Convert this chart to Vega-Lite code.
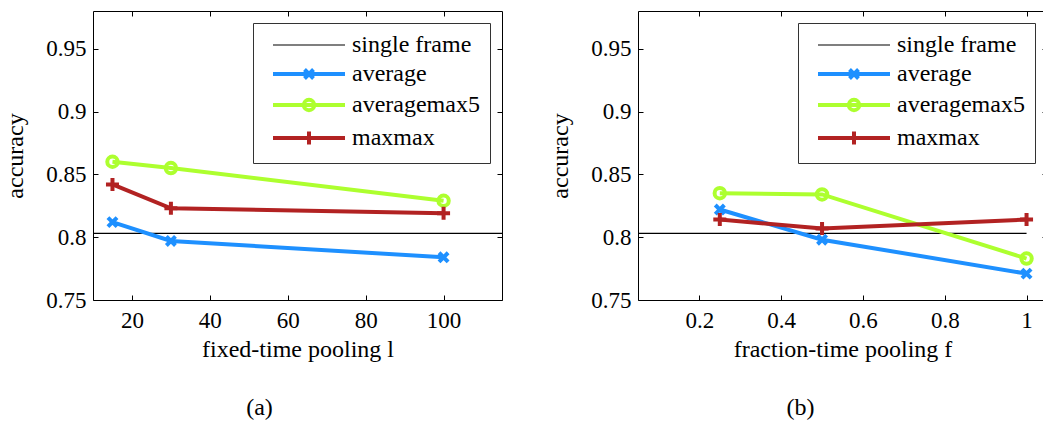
{
  "$schema": "https://vega.github.io/schema/vega-lite/v6.json",
  "background": "white",
  "padding": {"left": 3, "top": 10, "right": 0, "bottom": 0},
  "config": {
    "font": "Liberation Serif",
    "view": {"stroke": "black", "strokeWidth": 1},
    "axis": {
      "labelFont": "Liberation Serif", "titleFont": "Liberation Serif",
      "labelFontSize": 23, "titleFontSize": 24, "labelColor": "black", "titleColor": "black",
      "titleFontWeight": "normal", "tickColor": "black", "domainColor": "black", "domain": false,
      "grid": false, "tickSize": -5, "tickWidth": 1
    },
    "legend": {
      "labelFont": "Liberation Serif", "labelFontSize": 24, "labelColor": "black",
      "strokeColor": "#333333", "fillColor": "white", "padding": 10,
      "symbolSize": 324, "symbolStrokeWidth": 4, "symbolOffset": 34, "labelOffset": 31, "rowPadding": 4,
      "orient": "top-right", "offset": 12
    },
    "title": {"font": "Liberation Serif", "fontSize": 24, "fontWeight": "normal", "color": "black"}
  },
  "datasets": {
    "d": [
      {"panel": "a", "series": "single frame", "x": 10, "acc": 0.803},
      {"panel": "a", "series": "single frame", "x": 115, "acc": 0.803},
      {"panel": "a", "series": "average", "x": 15, "acc": 0.812},
      {"panel": "a", "series": "average", "x": 30, "acc": 0.797},
      {"panel": "a", "series": "average", "x": 100, "acc": 0.784},
      {"panel": "a", "series": "averagemax5", "x": 15, "acc": 0.86},
      {"panel": "a", "series": "averagemax5", "x": 30, "acc": 0.855},
      {"panel": "a", "series": "averagemax5", "x": 100, "acc": 0.829},
      {"panel": "a", "series": "maxmax", "x": 15, "acc": 0.842},
      {"panel": "a", "series": "maxmax", "x": 30, "acc": 0.823},
      {"panel": "a", "series": "maxmax", "x": 100, "acc": 0.819},
      {"panel": "b", "series": "single frame", "x": 0.05, "acc": 0.803},
      {"panel": "b", "series": "single frame", "x": 1, "acc": 0.803},
      {"panel": "b", "series": "average", "x": 0.25, "acc": 0.822},
      {"panel": "b", "series": "average", "x": 0.5, "acc": 0.798},
      {"panel": "b", "series": "average", "x": 1, "acc": 0.771},
      {"panel": "b", "series": "averagemax5", "x": 0.25, "acc": 0.835},
      {"panel": "b", "series": "averagemax5", "x": 0.5, "acc": 0.834},
      {"panel": "b", "series": "averagemax5", "x": 1, "acc": 0.783},
      {"panel": "b", "series": "maxmax", "x": 0.25, "acc": 0.814},
      {"panel": "b", "series": "maxmax", "x": 0.5, "acc": 0.807},
      {"panel": "b", "series": "maxmax", "x": 1, "acc": 0.814}
    ]
  },
  "spacing": 42,
  "resolve": {"scale": {"color": "independent", "shape": "independent"}, "legend": {"color": "independent"}},
  "hconcat": [
    {
      "width": 409, "height": 289,
      "title": {"text": "(a)", "orient": "bottom", "anchor": "middle", "frame": "group", "offset": 35, "dx": -38},
      "data": {"name": "d"},
      "transform": [{"filter": "datum.panel === 'a'"}],
      "layer": [
        {
          "transform": [{"filter": "datum.series === 'single frame'"}],
          "mark": {"type": "line", "strokeWidth": 1.2},
          "encoding": {
            "x": {"field": "x", "type": "quantitative", "scale": {"domain": [10, 115], "nice": false, "zero": false},
                  "axis": {"orient": "bottom", "values": [20, 40, 60, 80, 100], "format": "~r", "title": "fixed-time pooling l", "labelPadding": 14, "titlePadding": 5}},
            "y": {"field": "acc", "type": "quantitative", "scale": {"domain": [0.75, 0.98], "nice": false, "zero": false},
                  "axis": {"orient": "left", "values": [0.75, 0.8, 0.85, 0.9, 0.95], "format": "~r", "title": "accuracy", "labelPadding": 12, "titlePadding": 18}},
            "color": {"field": "series", "type": "nominal",
                      "scale": {"domain": ["single frame", "average", "averagemax5", "maxmax"], "range": ["black", "#1E90FF", "#ADFF2F", "#B22222"]},
                      "legend": {"title": null,
                        "encode": {"symbols": {"update": {
                          "shape": {"signal": "(datum.value === 'average' ? 'M-4,0H4M-0.5,-0.5L0.5,0.5M-0.5,0.5L0.5,-0.5' : datum.value === 'averagemax5' ? 'M-4,0H4M0.58,0A0.58,0.58 0 1,1 -0.58,0A0.58,0.58 0 1,1 0.58,0' : datum.value === 'maxmax' ? 'M-4,0H4M0,-0.72V0.72' : 'M-4,0H4')"},
                          "strokeWidth": {"signal": "(datum.value === 'single frame' ? 1.2 : 4)"},
                          "fill": {"value": "transparent"},
                          "size": {"value": 324},
                          "opacity": {"value": 1}
                        }}}}}
          }
        },
        {
          "transform": [{"filter": "datum.series !== 'single frame'"}],
          "mark": {"type": "line", "strokeWidth": 4},
          "encoding": {
            "x": {"field": "x", "type": "quantitative", "axis": null},
            "y": {"field": "acc", "type": "quantitative", "axis": null},
            "color": {"field": "series", "type": "nominal"}
          }
        },
        {
          "transform": [{"filter": "datum.series !== 'single frame'"}],
          "mark": {"type": "point", "filled": false, "strokeWidth": 4, "size": 169, "opacity": 1},
          "encoding": {
            "x": {"field": "x", "type": "quantitative", "axis": null},
            "y": {"field": "acc", "type": "quantitative", "axis": null},
            "color": {"field": "series", "type": "nominal"},
            "shape": {"field": "series", "type": "nominal", "legend": null,
                      "scale": {"domain": ["average", "averagemax5", "maxmax"],
                                "range": ["M-0.7,-0.7L0.7,0.7M-0.7,0.7L0.7,-0.7", "M0.8,0A0.8,0.8 0 1,1 -0.8,0A0.8,0.8 0 1,1 0.8,0", "M-1,0H1M0,-1V1"]}}
          }
        },
        {
          "mark": {"type": "point", "opacity": 0},
          "encoding": {
            "x": {"field": "x", "type": "quantitative", "axis": {"orient": "top", "values": [20, 40, 60, 80, 100], "labels": false, "title": null}},
            "y": {"field": "acc", "type": "quantitative", "axis": {"orient": "right", "values": [0.75, 0.8, 0.85, 0.9, 0.95], "labels": false, "title": null}}
          }
        }
      ],
      "resolve": {"axis": {"x": "independent", "y": "independent"}}
    },
    {
      "width": 409, "height": 289,
      "title": {"text": "(b)", "orient": "bottom", "anchor": "middle", "frame": "group", "offset": 35, "dx": -42},
      "data": {"name": "d"},
      "transform": [{"filter": "datum.panel === 'b'"}],
      "layer": [
        {
          "transform": [{"filter": "datum.series === 'single frame'"}],
          "mark": {"type": "line", "strokeWidth": 1.2},
          "encoding": {
            "x": {"field": "x", "type": "quantitative", "scale": {"domain": [0.05, 1.05], "nice": false, "zero": false},
                  "axis": {"orient": "bottom", "values": [0.2, 0.4, 0.6, 0.8, 1], "format": "~r", "title": "fraction-time pooling f", "labelPadding": 14, "titlePadding": 5}},
            "y": {"field": "acc", "type": "quantitative", "scale": {"domain": [0.75, 0.98], "nice": false, "zero": false},
                  "axis": {"orient": "left", "values": [0.75, 0.8, 0.85, 0.9, 0.95], "format": "~r", "title": "accuracy", "labelPadding": 12, "titlePadding": 18}},
            "color": {"field": "series", "type": "nominal",
                      "scale": {"domain": ["single frame", "average", "averagemax5", "maxmax"], "range": ["black", "#1E90FF", "#ADFF2F", "#B22222"]},
                      "legend": {"title": null,
                        "encode": {"symbols": {"update": {
                          "shape": {"signal": "(datum.value === 'average' ? 'M-4,0H4M-0.5,-0.5L0.5,0.5M-0.5,0.5L0.5,-0.5' : datum.value === 'averagemax5' ? 'M-4,0H4M0.58,0A0.58,0.58 0 1,1 -0.58,0A0.58,0.58 0 1,1 0.58,0' : datum.value === 'maxmax' ? 'M-4,0H4M0,-0.72V0.72' : 'M-4,0H4')"},
                          "strokeWidth": {"signal": "(datum.value === 'single frame' ? 1.2 : 4)"},
                          "fill": {"value": "transparent"},
                          "size": {"value": 324},
                          "opacity": {"value": 1}
                        }}}}}
          }
        },
        {
          "transform": [{"filter": "datum.series !== 'single frame'"}],
          "mark": {"type": "line", "strokeWidth": 4},
          "encoding": {
            "x": {"field": "x", "type": "quantitative", "axis": null},
            "y": {"field": "acc", "type": "quantitative", "axis": null},
            "color": {"field": "series", "type": "nominal"}
          }
        },
        {
          "transform": [{"filter": "datum.series !== 'single frame'"}],
          "mark": {"type": "point", "filled": false, "strokeWidth": 4, "size": 169, "opacity": 1},
          "encoding": {
            "x": {"field": "x", "type": "quantitative", "axis": null},
            "y": {"field": "acc", "type": "quantitative", "axis": null},
            "color": {"field": "series", "type": "nominal"},
            "shape": {"field": "series", "type": "nominal", "legend": null,
                      "scale": {"domain": ["average", "averagemax5", "maxmax"],
                                "range": ["M-0.7,-0.7L0.7,0.7M-0.7,0.7L0.7,-0.7", "M0.8,0A0.8,0.8 0 1,1 -0.8,0A0.8,0.8 0 1,1 0.8,0", "M-1,0H1M0,-1V1"]}}
          }
        },
        {
          "mark": {"type": "point", "opacity": 0},
          "encoding": {
            "x": {"field": "x", "type": "quantitative", "axis": {"orient": "top", "values": [0.2, 0.4, 0.6, 0.8, 1], "labels": false, "title": null}},
            "y": {"field": "acc", "type": "quantitative", "axis": {"orient": "right", "values": [0.75, 0.8, 0.85, 0.9, 0.95], "labels": false, "title": null}}
          }
        }
      ],
      "resolve": {"axis": {"x": "independent", "y": "independent"}}
    }
  ]
}
